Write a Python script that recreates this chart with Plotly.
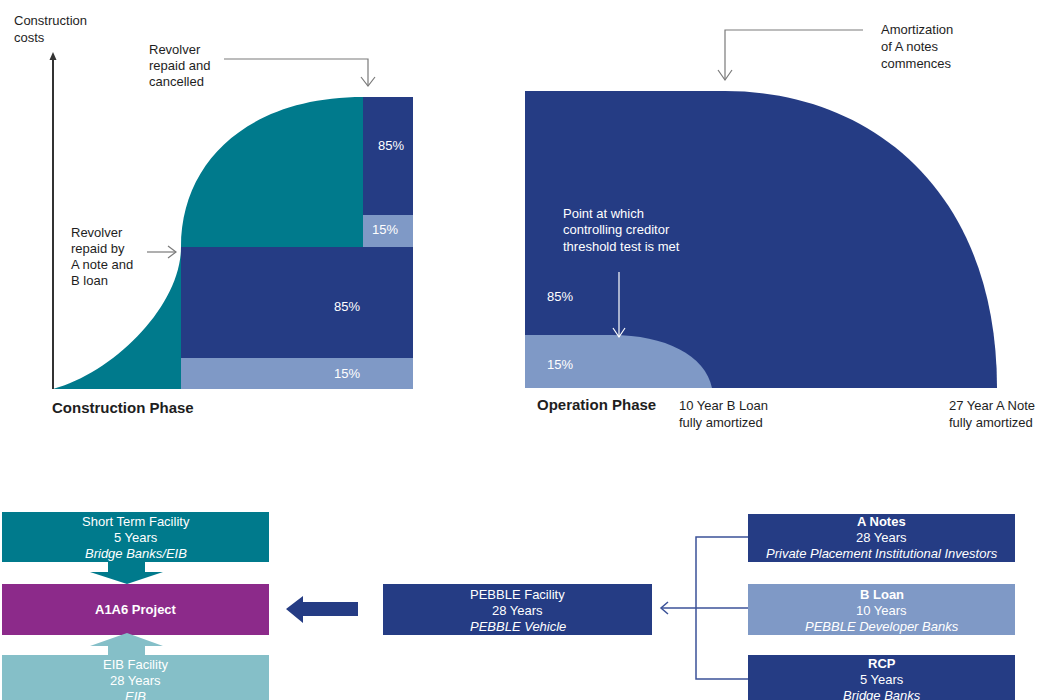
import plotly.graph_objects as go

# ---------------- data ----------------
construction_split = [85, 15]          # % A notes / % B loan (construction phase)
operation_split = [85, 15]             # % A notes / % B loan (operation phase)
b_loan_term_years = 10
a_note_term_years = 27
project_name = "A1A6 Project"
facility_names = ["Short Term Facility", "EIB Facility", "PEBBLE Facility", "A Notes", "B Loan", "RCP"]
facility_years = [5, 28, 28, 28, 10, 5]
facility_providers = ["Bridge Banks/EIB", "EIB", "PEBBLE Vehicle",
                      "Private Placement Institutional Investors", "PEBBLE Developer Banks", "Bridge Banks"]
axis_label = ["Construction", "costs"]
note_cancelled = ["Revolver", "repaid and", "cancelled"]
note_repaid = ["Revolver", "repaid by", "A note and", "B loan"]
note_amort = ["Amortization", "of A notes", "commences"]
note_threshold = ["Point at which", "controlling creditor", "threshold test is met"]
phase_labels = ["Construction Phase", "Operation Phase"]

# ---------------- styles ----------------
TEAL = "#007A8C"
NAVY = "#253C84"
LIGHT = "#7F99C6"
PURPLE = "#8C2A8A"
LTEAL = "#85BFC8"
TXT = "#1e1e1e"
GREY = "#7a7a7a"
FONT = "Liberation Sans, Arial, sans-serif"
W, H = 1041, 700

shapes = []
annotations = []


def rect(x0, y0, x1, y1, color):
    shapes.append(dict(type="rect", xref="x", yref="y", x0=x0, y0=y0, x1=x1, y1=y1,
                       fillcolor=color, line=dict(width=0), layer="above"))


def path(d, fill=None, line=None, width=1.0):
    s = dict(type="path", xref="x", yref="y", path=d, layer="above")
    s["fillcolor"] = fill if fill else "rgba(0,0,0,0)"
    s["line"] = dict(color=line, width=width) if line else dict(width=0)
    shapes.append(s)


def text(x, y, s, size=13, color=TXT, bold=False, italic=False, xanchor="left"):
    if bold:
        s = "<b>" + s + "</b>"
    if italic:
        s = "<i>" + s + "</i>"
    annotations.append(dict(x=x, y=y, xref="x", yref="y", text=s, showarrow=False,
                            xanchor=xanchor, yanchor="middle",
                            font=dict(family=FONT, size=size, color=color)))


def lines(x, y0, step, strs, **kw):
    for i, s in enumerate(strs):
        text(x, y0 + i * step, s, **kw)


# ---------------- construction phase ----------------
path("M 53,389 C 115,372 181,305 181,247 C 181,160 250,97 363,97 L 363,389 Z", fill=TEAL)
rect(363, 97, 413, 215, NAVY)
rect(363, 215, 413, 247, LIGHT)
rect(181, 247, 413, 358, NAVY)
rect(181, 358, 413, 389, LIGHT)
text(391, 145, f"{construction_split[0]}%", color="white", xanchor="center")
text(385, 229, f"{construction_split[1]}%", color="white", xanchor="center")
text(347, 306, f"{construction_split[0]}%", color="white", xanchor="center")
text(347, 373, f"{construction_split[1]}%", color="white", xanchor="center")

# vertical axis arrow
path("M 53,389 L 53,57", line="#333333", width=2)
path("M 49.5,60 L 53,52 L 56.5,60 Z", fill="#333333")
lines(12, 20, 17, axis_label)

# notes
lines(147, 49, 16, note_cancelled)
path("M 224,59 L 368,59 L 368,86", line=GREY, width=1.2)
path("M 361,77 L 368,86 L 375,77", line=GREY, width=1.2)
lines(69, 232, 16.3, note_repaid)
path("M 147,252 L 176,252", line=GREY, width=1.2)
path("M 168,246 L 176,252 L 168,258", line=GREY, width=1.2)
text(50, 407, phase_labels[0], size=15, bold=True)

# ---------------- operation phase ----------------
path("M 525,91 L 725,91 C 870,91 997,190 997,388 L 525,388 Z", fill=NAVY)
path("M 525,335 L 612,335 C 665,335 705,355 712,388 L 525,388 Z", fill=LIGHT)
text(545, 296, f"{operation_split[0]}%", color="white")
text(545, 364, f"{operation_split[1]}%", color="white")
lines(561, 213, 16.5, note_threshold, color="white")
path("M 619,272 L 619,337", line="white", width=1.2)
path("M 613,328 L 619,337 L 625,328", line="white", width=1.2)
lines(879, 29, 17, note_amort)
path("M 863,30 L 725,30 L 725,80", line=GREY, width=1.2)
path("M 718,70 L 725,80 L 732,70", line=GREY, width=1.2)
text(535, 404, phase_labels[1], size=15, bold=True)
lines(677, 405, 17, [f"{b_loan_term_years} Year B Loan", "fully amortized"])
lines(947, 405, 17, [f"{a_note_term_years} Year A Note", "fully amortized"])

# ---------------- facility structure ----------------
boxes = [  # (x0, y0, x1, y1, colour, first text line y) matching facility order
    (2, 512, 269, 562, TEAL, 521),
    (2, 655, 269, 712, LTEAL, 664),
    (383, 584, 652, 635, NAVY, 594),
    (748, 514, 1015, 562, NAVY, 521),
    (748, 584, 1015, 635, LIGHT, 594),
    (748, 655, 1015, 712, NAVY, 663),
]
bold_title = [False, False, False, True, True, True]
for i, (x0, y0, x1, y1, col, ty) in enumerate(boxes):
    rect(x0, y0, x1, y1, col)
    cx = (x0 + x1) / 2
    text(cx, ty, facility_names[i], color="white", bold=bold_title[i], xanchor="center")
    text(cx, ty + 16.5, f"{facility_years[i]} Years", color="white", xanchor="center")
    text(cx, ty + 32.5, facility_providers[i], color="white", italic=True, xanchor="center")

rect(2, 584, 269, 635, PURPLE)
text(135.5, 609, project_name, color="white", bold=True, xanchor="center")

# block arrows
path("M 108,562 L 145,562 L 145,572 L 163,572 L 127,584 L 90,572 L 108,572 Z", fill=TEAL)
path("M 127,633 L 163,646 L 145,646 L 145,655 L 108,655 L 108,646 L 90,646 Z", fill=LTEAL)
path("M 286,609 L 303,596 L 303,602 L 358,602 L 358,616 L 303,616 L 303,623 Z", fill=NAVY)

# connector
path("M 748,537 L 696,537 L 696,679 L 748,679", line="#3B5298", width=1.5)
path("M 748,608 L 661,608", line="#3B5298", width=1.5)
path("M 668,602 L 661,608 L 668,614", line="#3B5298", width=1.5)

fig = go.Figure(go.Scatter(x=[None], y=[None], showlegend=False, hoverinfo="skip"))
fig.update_layout(
    width=W, height=H, margin=dict(l=0, r=0, t=0, b=0),
    paper_bgcolor="white", plot_bgcolor="white",
    xaxis=dict(range=[0, W], visible=False, fixedrange=True),
    yaxis=dict(range=[H, 0], visible=False, fixedrange=True),
    shapes=shapes, annotations=annotations, showlegend=False,
)
fig.write_html("out.html", config={"displayModeBar": False},
               post_script="document.body.style.margin='0';document.body.style.overflow='hidden';")
